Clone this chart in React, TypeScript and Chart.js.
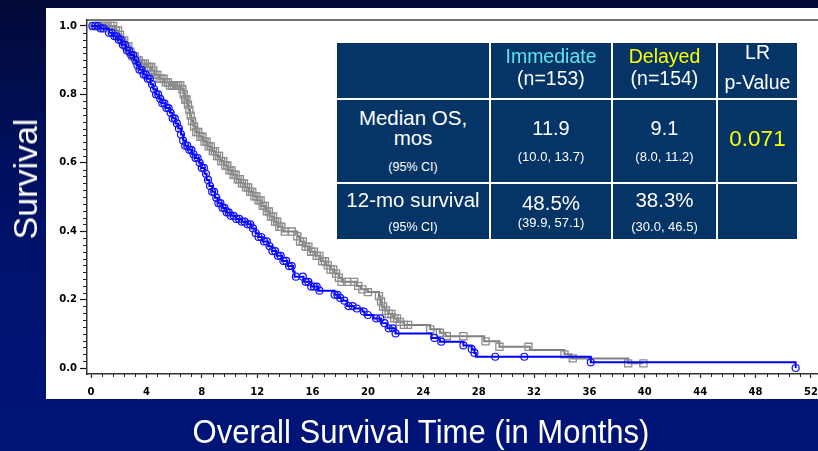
import React, { useEffect, useRef } from "react";
import { Chart, registerables } from "chart.js";

Chart.register(...registerables);

// ---------- data ----------
const xTickValues = [0, 4, 8, 12, 16, 20, 24, 28, 32, 36, 40, 44, 48, 52];
const yTickValues = [0, 0.2, 0.4, 0.6, 0.8, 1.0];

// Delayed arm (blue, circles) — Kaplan-Meier steps
const delayedTimes = [0, 0.6, 1.3, 1.6, 1.9, 2.2, 2.5, 2.8, 3.1, 3.3, 3.5, 3.8, 4.0, 4.3, 4.5, 4.7, 4.9, 5.1, 5.4, 5.7, 5.9, 6.1, 6.3, 6.5, 6.65, 6.8, 7.0, 7.3, 7.5, 7.8, 8.0, 8.2, 8.35, 8.55, 8.75, 8.95, 9.2, 9.5, 9.8, 10.1, 10.5, 10.9, 11.3, 11.6, 11.9, 12.1, 12.4, 12.8, 13.1, 13.4, 13.8, 14.2, 14.6, 14.7, 15.35, 15.9, 16.4, 17.6, 17.9, 18.1, 18.5, 19.0, 19.6, 19.75, 20.4, 20.95, 21.4, 22.0, 24.6, 25.2, 26.9, 27.5, 27.7, 27.8, 36.1, 50.9];
const delayedSurv = [1, 0.993, 0.98, 0.97, 0.96, 0.945, 0.928, 0.915, 0.9, 0.885, 0.872, 0.858, 0.846, 0.83, 0.815, 0.8, 0.787, 0.774, 0.76, 0.746, 0.73, 0.715, 0.7, 0.683, 0.665, 0.65, 0.638, 0.625, 0.614, 0.6, 0.585, 0.568, 0.55, 0.532, 0.515, 0.498, 0.482, 0.468, 0.455, 0.445, 0.436, 0.428, 0.42, 0.408, 0.394, 0.383, 0.37, 0.356, 0.342, 0.328, 0.313, 0.298, 0.282, 0.267, 0.252, 0.238, 0.226, 0.214, 0.205, 0.197, 0.181, 0.174, 0.165, 0.155, 0.145, 0.131, 0.116, 0.101, 0.088, 0.077, 0.066, 0.055, 0.044, 0.033, 0.0166, 0];
const delayedCensor = [0.1, 0.3, 0.5, 0.7, 0.9, 1.3, 1.5, 1.7, 1.85, 2.0, 2.15, 2.3, 2.45, 2.6, 2.75, 2.9, 3.05, 3.2, 3.35, 3.5, 3.65, 3.8, 3.95, 4.1, 4.25, 4.4, 4.55, 4.7, 4.85, 5.0, 5.15, 5.3, 5.45, 5.6, 5.75, 5.9, 6.05, 6.2, 6.35, 6.5, 6.65, 6.8, 6.95, 7.1, 7.25, 7.4, 7.55, 7.7, 7.85, 8.0, 8.15, 8.3, 8.45, 8.6, 8.75, 8.9, 9.05, 9.2, 9.35, 9.5, 9.65, 9.8, 9.95, 10.1, 10.3, 10.5, 10.7, 10.9, 11.1, 11.3, 11.5, 11.7, 11.9, 12.1, 12.3, 12.5, 12.7, 12.9, 13.1, 13.3, 13.5, 13.7, 13.9, 14.1, 14.3, 14.5, 14.8, 15.3, 15.5, 15.7, 15.9, 16.1, 16.3, 16.5, 17.6, 17.8, 18.0, 18.3, 18.6, 18.9, 19.2, 19.7, 20.0, 20.6, 20.9, 21.2, 21.5, 21.8, 22.0, 24.8, 25.3, 26.9, 27.5, 27.7, 29.2, 31.3, 36.1, 50.9];

// Immediate arm (gray, squares)
const immediateTimes = [0, 1.8, 2.0, 2.2, 2.5, 2.8, 3.0, 3.3, 3.6, 4.0, 4.4, 4.6, 4.9, 5.3, 5.7, 6.5, 6.7, 6.8, 6.95, 7.05, 7.15, 7.25, 7.4, 7.6, 7.8, 8.1, 8.4, 8.7, 9.0, 9.3, 9.6, 9.9, 10.2, 10.5, 10.8, 11.1, 11.4, 11.7, 12.0, 12.3, 12.6, 12.9, 13.2, 13.5, 13.8, 14.9, 15.1, 15.4, 15.8, 16.2, 16.6, 17.0, 17.3, 17.6, 17.9, 18.1, 19.2, 19.5, 20.0, 20.8, 20.9, 21.0, 21.2, 21.5, 21.9, 22.2, 22.6, 24.5, 25.2, 25.6, 28.4, 29.5, 31.7, 34.2, 34.7, 38.8, 39.9];
const immediateSurv = [1, 0.987, 0.974, 0.958, 0.941, 0.925, 0.912, 0.899, 0.89, 0.88, 0.87, 0.857, 0.846, 0.835, 0.826, 0.815, 0.8, 0.785, 0.77, 0.755, 0.738, 0.722, 0.706, 0.69, 0.676, 0.662, 0.648, 0.634, 0.62, 0.605, 0.592, 0.578, 0.565, 0.552, 0.54, 0.528, 0.515, 0.502, 0.49, 0.474, 0.458, 0.443, 0.428, 0.413, 0.399, 0.385, 0.37, 0.355, 0.34, 0.328, 0.312, 0.3, 0.288, 0.276, 0.264, 0.252, 0.24, 0.23, 0.222, 0.21, 0.195, 0.18, 0.168, 0.158, 0.145, 0.135, 0.126, 0.113, 0.103, 0.093, 0.078, 0.062, 0.053, 0.04, 0.028, 0.0136, 0.0136];
const immediateCensor = [0.2, 0.4, 0.6, 0.8, 1.0, 1.2, 1.4, 1.6, 1.8, 1.95, 2.1, 2.25, 2.4, 2.55, 2.7, 2.85, 3.0, 3.15, 3.3, 3.45, 3.6, 3.75, 3.9, 4.05, 4.2, 4.35, 4.5, 4.65, 4.8, 4.95, 5.1, 5.25, 5.4, 5.55, 5.7, 5.85, 6.0, 6.15, 6.3, 6.45, 6.6, 6.7, 6.8, 6.9, 7.0, 7.1, 7.2, 7.3, 7.45, 7.6, 7.75, 7.9, 8.05, 8.2, 8.35, 8.5, 8.65, 8.8, 8.95, 9.1, 9.25, 9.4, 9.55, 9.7, 9.85, 10.0, 10.15, 10.3, 10.45, 10.6, 10.75, 10.9, 11.05, 11.2, 11.35, 11.5, 11.65, 11.8, 11.95, 12.1, 12.25, 12.4, 12.55, 12.7, 12.85, 13.0, 13.15, 13.3, 13.45, 13.6, 13.75, 14.0, 14.5, 14.9, 15.1, 15.3, 15.5, 15.7, 15.9, 16.1, 16.3, 16.5, 16.7, 16.9, 17.1, 17.3, 17.5, 17.7, 17.9, 18.1, 18.5, 19.0, 19.3, 19.6, 20.0, 20.8, 20.95, 21.1, 21.3, 21.5, 21.7, 21.9, 22.1, 22.3, 22.6, 22.9, 24.5, 25.2, 25.7, 26.9, 28.5, 29.5, 31.6, 34.2, 34.8, 38.8, 39.9];

// ---------- helpers ----------
const toPoints = (ts: number[], ss: number[]) => ts.map((t, i) => ({ x: t, y: ss[i] }));
const survAt = (ts: number[], ss: number[], t: number) => {
  let v = ss[0];
  for (let i = 0; i < ts.length; i++) if (ts[i] <= t + 1e-9) v = ss[i];
  return v;
};
const censorPoints = (cs: number[], ts: number[], ss: number[]) =>
  cs.map((t) => ({ x: t, y: survAt(ts, ss, t) }));

const FONT = "'Liberation Sans', Arial, sans-serif";
const CELL_BG = "#053466";

type Line = { text: string; y: number; size: number; color?: string };
type Cell = { x0: number; x1: number; y0: number; y1: number; lines: Line[] };

const tableCells: Cell[] = [
  { x0: 337, x1: 489, y0: 43, y1: 98, lines: [] },
  { x0: 491, x1: 611, y0: 43, y1: 98, lines: [{ text: "Immediate", y: 57, size: 19.5, color: "#5ce6f2" }, { text: "(n=153)", y: 79, size: 19.5 }] },
  { x0: 613, x1: 716, y0: 43, y1: 98, lines: [{ text: "Delayed", y: 57, size: 19.5, color: "#ffff00" }, { text: "(n=154)", y: 79, size: 19.5 }] },
  { x0: 718, x1: 797, y0: 43, y1: 98, lines: [{ text: "LR", y: 53, size: 19.5 }, { text: "p-Value", y: 83, size: 19.5 }] },
  { x0: 337, x1: 489, y0: 100, y1: 182, lines: [{ text: "Median OS,", y: 118, size: 20.5 }, { text: "mos", y: 138, size: 20.5 }, { text: "(95% CI)", y: 167, size: 12.5 }] },
  { x0: 491, x1: 611, y0: 100, y1: 182, lines: [{ text: "11.9", y: 128, size: 20 }, { text: "(10.0, 13.7)", y: 157, size: 13 }] },
  { x0: 613, x1: 716, y0: 100, y1: 182, lines: [{ text: "9.1", y: 128, size: 20 }, { text: "(8.0, 11.2)", y: 157, size: 13 }] },
  { x0: 718, x1: 797, y0: 100, y1: 182, lines: [{ text: "0.071", y: 138, size: 22.5, color: "#ffff00" }] },
  { x0: 337, x1: 489, y0: 184, y1: 239, lines: [{ text: "12-mo survival", y: 200, size: 20.5 }, { text: "(95% CI)", y: 227, size: 12.5 }] },
  { x0: 491, x1: 611, y0: 184, y1: 239, lines: [{ text: "48.5%", y: 203, size: 20.5 }, { text: "(39.9, 57.1)", y: 223, size: 13 }] },
  { x0: 613, x1: 716, y0: 184, y1: 239, lines: [{ text: "38.3%", y: 200, size: 20.5 }, { text: "(30.0, 46.5)", y: 227, size: 13 }] },
  { x0: 718, x1: 797, y0: 184, y1: 239, lines: [] },
];

const framePlugin = {
  id: "frame",
  beforeDraw(chart: any) {
    const ctx = chart.ctx;
    ctx.save();
    ctx.fillStyle = "#ffffff";
    ctx.fillRect(46, 8, chart.width - 46, 391);
    ctx.restore();
  },
  afterDraw(chart: any) {
    const { ctx, chartArea, scales } = chart;
    const x = scales.x, y = scales.y;
    ctx.save();
    ctx.strokeStyle = "#444";
    ctx.lineWidth = 1.5;
    ctx.beginPath();
    ctx.moveTo(chartArea.left, chartArea.top);
    ctx.lineTo(chartArea.right, chartArea.top);
    ctx.stroke();
    ctx.strokeStyle = "#222";
    ctx.lineWidth = 1;
    ctx.beginPath();
    for (let k = 0; k <= 66; k++) {
      if (k % 5 === 0) continue;
      const px = Math.round(x.getPixelForValue(k * 0.8)) + 0.5;
      ctx.moveTo(px, chartArea.bottom);
      ctx.lineTo(px, chartArea.bottom + 3);
    }
    for (let k = 0; k <= 50; k++) {
      if (k % 10 === 0) continue;
      const py = Math.round(y.getPixelForValue(k * 0.02)) + 0.5;
      ctx.moveTo(chartArea.left, py);
      ctx.lineTo(chartArea.left - 4, py);
    }
    ctx.stroke();
    ctx.restore();
  },
};

export default function App() {
  const ref = useRef<HTMLCanvasElement>(null);

  useEffect(() => {
    if (!ref.current) return;
    const chart = new Chart(ref.current, {
      type: "line",
      data: {
        datasets: [
          {
            type: "scatter",
            label: "Delayed censored",
            data: censorPoints(delayedCensor, delayedTimes, delayedSurv),
            showLine: false,
            pointStyle: "circle",
            pointRadius: 3.5,
            pointBorderColor: "#1010ff",
            pointBackgroundColor: "rgba(0,0,0,0)",
            pointBorderWidth: 1.2,
          } as any,
          {
            label: "Delayed",
            data: toPoints(delayedTimes, delayedSurv),
            stepped: "before",
            borderColor: "#0000ff",
            borderWidth: 2,
            pointRadius: 0,
            fill: false,
          },
          {
            type: "scatter",
            label: "Immediate censored",
            data: censorPoints(immediateCensor, immediateTimes, immediateSurv),
            showLine: false,
            pointStyle: "rect",
            pointRadius: 5,
            pointBorderColor: "#8c8c8c",
            pointBackgroundColor: "rgba(0,0,0,0)",
            pointBorderWidth: 1.3,
          } as any,
          {
            label: "Immediate",
            data: toPoints(immediateTimes, immediateSurv),
            stepped: "before",
            borderColor: "#808080",
            borderWidth: 2,
            pointRadius: 0,
            fill: false,
          },
        ],
      },
      options: {
        animation: false,
        responsive: false,
        events: [],
        layout: { padding: { left: 46, top: 20, right: 0, bottom: 52 } },
        plugins: { legend: { display: false }, tooltip: { enabled: false }, title: { display: false } },
        scales: {
          x: {
            type: "linear",
            min: -0.29,
            max: 54.37,
            afterBuildTicks: (s: any) => { s.ticks = xTickValues.map((v) => ({ value: v })); },
            afterFit: (s: any) => { s.height = 25; },
            grid: { drawOnChartArea: false, drawTicks: true, tickLength: 4, tickColor: "#222", tickWidth: 1.2 },
            border: { display: true, color: "#333", width: 1.5 },
            ticks: {
              color: "#000",
              font: { family: "'DejaVu Sans', Verdana, sans-serif", size: 10, weight: "bold" },
              padding: 8,
              maxRotation: 0,
              autoSkip: false,
              callback: (v: any) => String(v),
            },
          },
          y: {
            type: "linear",
            min: -0.0175,
            max: 1.0175,
            afterBuildTicks: (s: any) => { s.ticks = yTickValues.map((v) => ({ value: v })); },
            afterFit: (s: any) => { s.width = 41; },
            grid: { drawOnChartArea: false, drawTicks: true, tickLength: 7, tickColor: "#111", tickWidth: 1.2 },
            border: { display: true, color: "#333", width: 1.5 },
            ticks: {
              color: "#000",
              font: { family: "'DejaVu Sans', Verdana, sans-serif", size: 10, weight: "bold" },
              padding: 3,
              callback: (v: any) => Number(v).toFixed(1),
            },
          },
        },
      },
      plugins: [framePlugin],
    } as any);
    return () => chart.destroy();
  }, []);

  return (
    <div
      style={{
        position: "fixed",
        left: 0,
        top: 0,
        width: 818,
        height: 451,
        overflow: "hidden",
        background: "linear-gradient(to bottom, #030a38 0%, #00105e 35%, #001370 65%, #001478 100%)",
        fontFamily: FONT,
      }}
    >
      <canvas ref={ref} width={850} height={451} style={{ position: "absolute", left: 0, top: 0, display: "block" }} />
      {tableCells.map((c, i) => (
        <div
          key={i}
          style={{
            position: "absolute",
            left: c.x0,
            top: c.y0,
            width: c.x1 - c.x0,
            height: c.y1 - c.y0,
            background: CELL_BG,
          }}
        >
          {c.lines.map((l, j) => (
            <div
              key={j}
              style={{
                position: "absolute",
                left: 0,
                width: "100%",
                top: l.y - c.y0 - l.size * 0.6,
                height: l.size * 1.2,
                lineHeight: `${l.size * 1.2}px`,
                fontSize: l.size,
                textAlign: "center",
                color: l.color || "#ffffff",
                whiteSpace: "nowrap",
              }}
            >
              {l.text}
            </div>
          ))}
        </div>
      ))}
      <div
        style={{
          position: "absolute",
          left: 25,
          top: 179,
          transform: "translate(-50%, -50%) rotate(-90deg)",
          color: "#ffffff",
          fontSize: 34,
          lineHeight: "34px",
          whiteSpace: "nowrap",
        }}
      >
        Survival
      </div>
      <div
        style={{
          position: "absolute",
          left: 421,
          top: 432,
          transform: "translate(-50%, -50%) scaleX(0.94)",
          color: "#ffffff",
          fontSize: 33,
          lineHeight: "34px",
          whiteSpace: "nowrap",
        }}
      >
        Overall Survival Time (in Months)
      </div>
    </div>
  );
}
